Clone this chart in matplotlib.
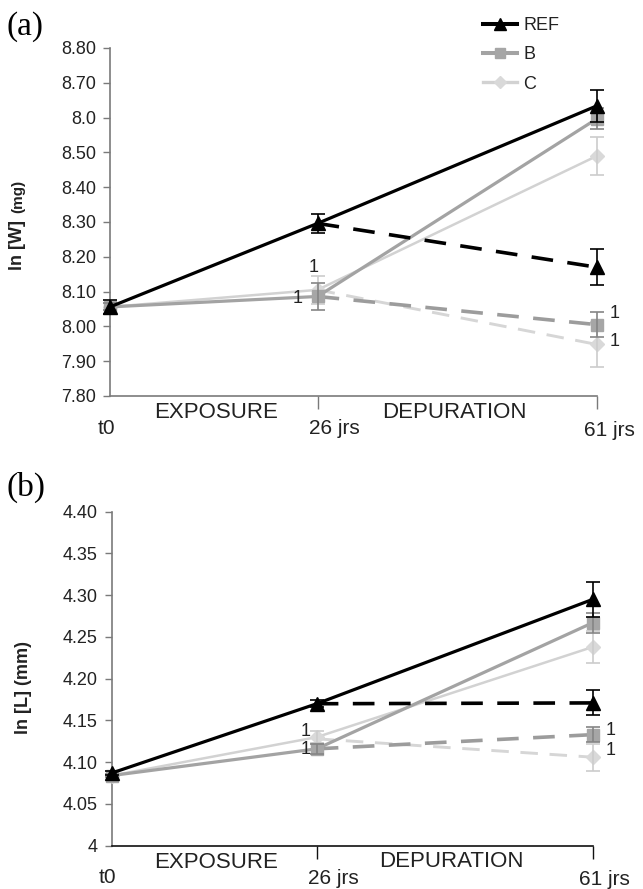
import matplotlib
matplotlib.use("Agg")
import matplotlib.pyplot as plt
from matplotlib.lines import Line2D
from matplotlib.ticker import FixedLocator, FixedFormatter

plt.rcParams['font.family'] = ['Liberation Sans', 'DejaVu Sans']

# ---------------- data ----------------
days = [0, 26, 61]
dep_days = [26, 61]
series = ["REF", "B", "C"]

# panel (a): ln[W] (mg)
W_exp = {"REF": [8.056, 8.296, 8.634], "B": [8.056, 8.086, 8.597], "C": [8.056, 8.105, 8.490]}
W_exp_err = {"REF": [0.020, 0.028, 0.046], "B": [0.010, 0.040, 0.030], "C": [0.010, 0.040, 0.055]}
W_dep = {"REF": [8.296, 8.170], "B": [8.086, 8.005], "C": [8.105, 7.948]}
W_dep_err = {"REF": 0.052, "B": 0.036, "C": 0.064}
W_yticks = [7.80, 7.90, 8.00, 8.10, 8.20, 8.30, 8.40, 8.50, 8.60, 8.70, 8.80]
W_ylabels = ["7.80", "7.90", "8.00", "8.10", "8.20", "8.30", "8.40", "8.50", "8.0", "8.70", "8.80"]

# panel (b): ln[L] (mm)
L_exp = {"REF": [4.087, 4.170, 4.295], "B": [4.084, 4.116, 4.267], "C": [4.084, 4.130, 4.238]}
L_exp_err = {"REF": [0.002, 0.004, 0.021], "B": [0.002, 0.006, 0.012], "C": [0.002, 0.007, 0.019]}
L_dep = {"REF": [4.170, 4.171], "B": [4.116, 4.133], "C": [4.128, 4.106]}
L_dep_err = {"REF": 0.015, "B": 0.009, "C": 0.016}
L_yticks = [4.00, 4.05, 4.10, 4.15, 4.20, 4.25, 4.30, 4.35, 4.40]
L_ylabels = ["4", "4.05", "4.10", "4.15", "4.20", "4.25", "4.30", "4.35", "4.40"]

x_tick_labels = ["t0", "26 jrs", "61 jrs"]
phase_labels = ["EXPOSURE", "DEPURATION"]

# ---------------- styles ----------------
line_col = {"REF": "#000000", "B": "#a3a3a3", "C": "#d2d2d2"}
dash_col = {"REF": "#000000", "B": "#9c9c9c", "C": "#d6d6d6"}
mk_col = {"REF": "#000000", "B": "#a6a6a6", "C": "#d9d9d9"}
err_col = {"REF": "#000000", "B": "#858585", "C": "#cccccc"}
marker = {"REF": "^", "B": "s", "C": "D"}
msize = {"REF": 9.5, "B": 8.5, "C": 7.0}
lw = {"REF": 2.3, "B": 2.3, "C": 1.8}
zo = {"REF": 6, "B": 5, "C": 4}

W, H = 643, 889
fig = plt.figure(figsize=(W / 100, H / 100), dpi=100)

def fx(px):
    return px / W

def fy(py):
    return 1 - py / H

axA = fig.add_axes([fx(110), fy(396), fx(597) - fx(110), fy(48) - fy(396)])
axB = fig.add_axes([fx(111.7), fy(845.7), fx(592.7) - fx(111.7), fy(511.7) - fy(845.7)])


def draw(ax, exp, exp_err, dep, dep_err, yticks, ylabels, ylim, bottom_col):
    for s in ["C", "B", "REF"]:
        ax.plot(days, exp[s], color=line_col[s], lw=lw[s], zorder=zo[s], clip_on=False,
                solid_capstyle='butt')
        ax.plot(dep_days, dep[s], color=dash_col[s], lw=lw[s] + 0.3, ls=(0, (6, 4)),
                zorder=zo[s], clip_on=False)
        ax.errorbar(days, exp[s], yerr=exp_err[s], fmt='none', ecolor=err_col[s],
                    elinewidth=1.2, capsize=5, capthick=1.2, zorder=zo[s] + 0.5, clip_on=False)
        ax.errorbar([dep_days[1]], [dep[s][1]], yerr=[dep_err[s]], fmt='none',
                    ecolor=err_col[s], elinewidth=1.2, capsize=5, capthick=1.2,
                    zorder=zo[s] + 0.5, clip_on=False)
        ax.plot(days, exp[s], ls='none', marker=marker[s], ms=msize[s], color=mk_col[s],
                mec=mk_col[s], zorder=zo[s] + 0.2, clip_on=False)
        ax.plot([dep_days[1]], [dep[s][1]], ls='none', marker=marker[s], ms=msize[s],
                color=mk_col[s], mec=mk_col[s], zorder=zo[s] + 0.2, clip_on=False)
    ax.set_xlim(0, 61)
    ax.set_ylim(*ylim)
    for sp in ["top", "right"]:
        ax.spines[sp].set_visible(False)
    ax.spines["left"].set_color("#7a7a7a")
    ax.spines["left"].set_linewidth(1.2)
    ax.spines["bottom"].set_color(bottom_col)
    ax.spines["bottom"].set_linewidth(1.2)
    ax.yaxis.set_major_locator(FixedLocator(yticks))
    ax.yaxis.set_major_formatter(FixedFormatter(ylabels))
    ax.tick_params(axis='y', direction='out', length=5, width=1, color="#7a7a7a",
                   labelsize=13, pad=5, labelcolor="#222222")
    ax.xaxis.set_major_locator(FixedLocator([26, 61]))
    ax.tick_params(axis='x', direction='out', length=9, width=1, color=bottom_col,
                   labelbottom=False)
    tr = ('data', 'axes fraction')
    kw = dict(xycoords=tr, textcoords='offset pixels', ha='center', va='center',
              color="#222222")
    ax.annotate(x_tick_labels[0], xy=(0, 0), xytext=(-4, -32), fontsize=15, **kw)
    ax.annotate(x_tick_labels[1], xy=(26, 0), xytext=(17, -33), fontsize=15, **kw)
    ax.annotate(x_tick_labels[2], xy=(61, 0), xytext=(12, -34), fontsize=15, **kw)
    ax.annotate(phase_labels[0], xy=(13, 0), xytext=(2, -17), fontsize=16, **kw)
    ax.annotate(phase_labels[1], xy=(43.5, 0), xytext=(-3, -16), fontsize=16, **kw)


draw(axA, W_exp, W_exp_err, W_dep, W_dep_err, W_yticks, W_ylabels, (7.80, 8.80), "#7a7a7a")
draw(axB, L_exp, L_exp_err, L_dep, L_dep_err, L_yticks, L_ylabels, (4.00, 4.40), "#111111")

# significance marks "1"
nkw = dict(textcoords='offset pixels', ha='center', va='center', fontsize=13,
           color="#222222", zorder=12)
axA.annotate("1", xy=(26, W_exp["C"][1]), xytext=(-4, 22), **nkw)
axA.annotate("1", xy=(26, W_exp["B"][1]), xytext=(-20, -2), **nkw)
axA.annotate("1", xy=(61, W_dep["B"][1]), xytext=(18, 11), **nkw)
axA.annotate("1", xy=(61, W_dep["C"][1]), xytext=(18, 3), **nkw)
axB.annotate("1", xy=(26, L_exp["C"][1]), xytext=(-11, 6), **nkw)
axB.annotate("1", xy=(26, L_exp["B"][1]), xytext=(-11, -1), **nkw)
axB.annotate("1", xy=(61, L_dep["B"][1]), xytext=(18, 4), **nkw)
axB.annotate("1", xy=(61, L_dep["C"][1]), xytext=(18, 7), **nkw)

# y labels
fig.text(fx(17), fy(245), "ln [W]", rotation=90, ha='center', va='center',
         fontsize=13, fontweight='bold', color="#222222")
fig.text(fx(18), fy(196), "(mg)", rotation=90, ha='center', va='center',
         fontsize=11, fontweight='bold', color="#222222")
fig.text(fx(24), fy(687), "ln [L] (mm)", rotation=90, ha='center', va='center',
         fontsize=13, fontweight='bold', color="#222222")

# panel letters
fig.text(fx(7), fy(27), "(a)", ha='left', va='center', fontsize=24,
         family=['Liberation Serif', 'DejaVu Serif'])
fig.text(fx(7), fy(487), "(b)", ha='left', va='center', fontsize=24,
         family=['Liberation Serif', 'DejaVu Serif'])

# legend
handles = [Line2D([], [], color=line_col[s], lw=lw[s] + 0.6, marker=marker[s],
                  ms=msize[s] - 1, mfc=mk_col[s], mec=mk_col[s]) for s in series]
axA.legend(handles, series, loc='upper left', bbox_to_anchor=(fx(483), fy(17)),
           bbox_transform=fig.transFigure, frameon=False, fontsize=13, borderpad=0,
           borderaxespad=0, handlelength=1.9, handletextpad=0.35, labelspacing=0.68,
           labelcolor="#222222")

fig.savefig("out.png", dpi=100)
